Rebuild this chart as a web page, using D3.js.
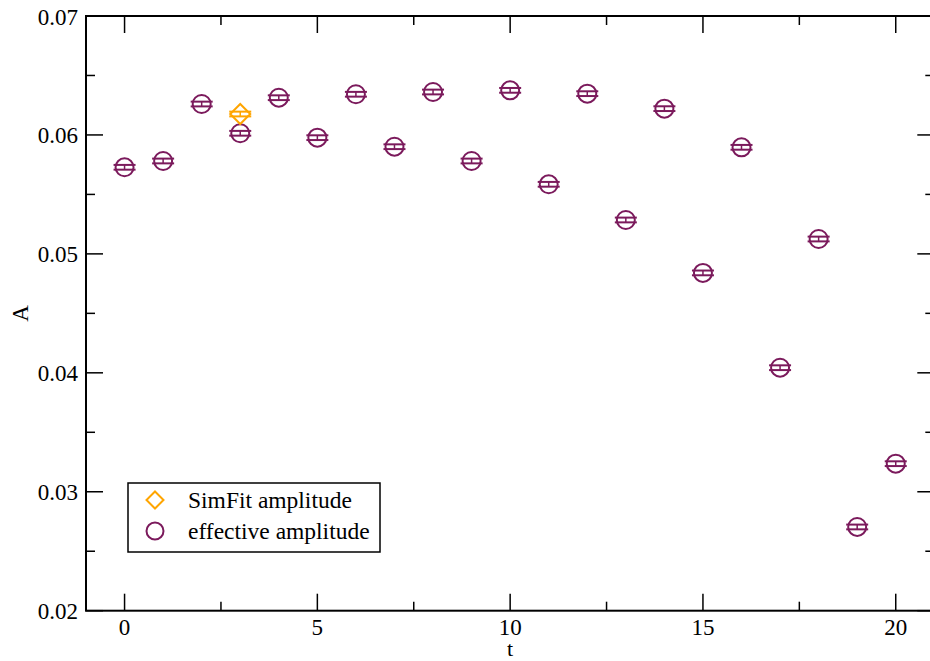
<!DOCTYPE html>
<html>
<head>
<meta charset="utf-8">
<script src="https://cdn.jsdelivr.net/npm/d3@7"></script>
<style>
  html, body { margin: 0; padding: 0; background: #fff; }
  svg { display: block; }
  text { font-family: "Liberation Serif", "DejaVu Serif", serif; fill: #000; }
</style>
</head>
<body>
<svg id="chart" width="930" height="661"></svg>
<script>
// Effective amplitude per time slice t
const tValues = [0, 1, 2, 3, 4, 5, 6, 7, 8, 9, 10, 11, 12, 13, 14, 15, 16, 17, 18, 19, 20];
const effAmp = [0.05728, 0.05781, 0.06260, 0.06014, 0.06313, 0.05977, 0.06342, 0.05901,
                0.06361, 0.05781, 0.06375, 0.05585, 0.06347, 0.05285, 0.06221, 0.04840,
                0.05896, 0.04043, 0.05125, 0.02704, 0.03236];
const effErr = [0.0002, 0.0002, 0.0002, 0.0002, 0.0002, 0.0002, 0.0002, 0.0002, 0.0002, 0.0002,
                0.0002, 0.0002, 0.0002, 0.0002, 0.0002, 0.0002, 0.0002, 0.0002, 0.0002, 0.0002, 0.0002];

// Simultaneous-fit amplitude
const simT = [3];
const simAmp = [0.06176];
const simErr = [0.0002];

const xMajorTicks = [0, 5, 10, 15, 20];
const yMajorTicks = [0.02, 0.03, 0.04, 0.05, 0.06, 0.07];
const legendLabels = ["SimFit amplitude", "effective amplitude"];

const purple = "#7b1a5c";
const orange = "#ffa500";

const svg = d3.select("#chart");
const plotLeft = 86, plotTop = 16, plotRight = 934.3, plotBottom = 610.7;

const x = d3.scaleLinear().domain([-1, 21]).range([plotLeft, plotRight]);
const y = d3.scaleLinear().domain([0.02, 0.07]).range([plotBottom, plotTop]);

const xMinor = d3.range(0, 21, 2.5).filter(v => !xMajorTicks.includes(v));
const yMinor = d3.range(0.025, 0.07, 0.01);

// Frame
svg.append("rect")
  .attr("x", plotLeft).attr("y", plotTop)
  .attr("width", plotRight - plotLeft).attr("height", plotBottom - plotTop)
  .attr("fill", "none").attr("stroke", "#000").attr("stroke-width", 2);

const ticks = svg.append("g").attr("stroke", "#000").attr("stroke-width", 1.5);
const majorLen = 17, minorLen = 9;

// x ticks (bottom and top, pointing inward)
xMajorTicks.forEach(v => {
  ticks.append("line").attr("x1", x(v)).attr("x2", x(v)).attr("y1", plotBottom).attr("y2", plotBottom - majorLen);
  ticks.append("line").attr("x1", x(v)).attr("x2", x(v)).attr("y1", plotTop).attr("y2", plotTop + majorLen);
});
xMinor.forEach(v => {
  ticks.append("line").attr("x1", x(v)).attr("x2", x(v)).attr("y1", plotBottom).attr("y2", plotBottom - minorLen);
  ticks.append("line").attr("x1", x(v)).attr("x2", x(v)).attr("y1", plotTop).attr("y2", plotTop + minorLen);
});
// y ticks (left and right)
yMajorTicks.forEach(v => {
  ticks.append("line").attr("y1", y(v)).attr("y2", y(v)).attr("x1", plotLeft).attr("x2", plotLeft + majorLen);
  ticks.append("line").attr("y1", y(v)).attr("y2", y(v)).attr("x1", plotRight).attr("x2", plotRight - majorLen);
});
yMinor.forEach(v => {
  ticks.append("line").attr("y1", y(v)).attr("y2", y(v)).attr("x1", plotLeft).attr("x2", plotLeft + minorLen);
  ticks.append("line").attr("y1", y(v)).attr("y2", y(v)).attr("x1", plotRight).attr("x2", plotRight - minorLen);
});

// Tick labels
svg.append("g").selectAll("text").data(xMajorTicks).join("text")
  .attr("x", d => x(d)).attr("y", 635)
  .attr("text-anchor", "middle").attr("font-size", 23)
  .text(d => d);
svg.append("g").selectAll("text").data(yMajorTicks).join("text")
  .attr("x", 78).attr("y", d => y(d) + 8.5)
  .attr("text-anchor", "end").attr("font-size", 23)
  .text(d => d3.format(".2f")(d));

// Axis titles
svg.append("text").attr("x", x(10)).attr("y", 656)
  .attr("text-anchor", "middle").attr("font-size", 22).text("t");
svg.append("text").attr("transform", `translate(28,${(plotTop + plotBottom) / 2}) rotate(-90)`)
  .attr("text-anchor", "middle").attr("font-size", 23).text("A");

// Error bars with caps
function errorBars(g, xs, ys, es, color) {
  const capW = 11;
  xs.forEach((t, i) => {
    const cx = x(t), y0 = y(ys[i] - es[i]), y1 = y(ys[i] + es[i]);
    g.append("line").attr("x1", cx).attr("x2", cx).attr("y1", y0).attr("y2", y1)
      .attr("stroke", color).attr("stroke-width", 1.5);
    [y0, y1].forEach(yy => g.append("line")
      .attr("x1", cx - capW).attr("x2", cx + capW).attr("y1", yy).attr("y2", yy)
      .attr("stroke", color).attr("stroke-width", 2));
  });
}

const dataG = svg.append("g");
// effective amplitude: circles
errorBars(dataG, tValues, effAmp, effErr, purple);
dataG.selectAll("circle.eff").data(tValues).join("circle")
  .attr("class", "eff")
  .attr("cx", d => x(d)).attr("cy", (d, i) => y(effAmp[i]))
  .attr("r", 9).attr("fill", "none").attr("stroke", purple).attr("stroke-width", 2);

// SimFit amplitude: diamonds
errorBars(dataG, simT, simAmp, simErr, orange);
const diamond = (cx, cy, s) => `M${cx},${cy - s}L${cx + s},${cy}L${cx},${cy + s}L${cx - s},${cy}Z`;
dataG.selectAll("path.sim").data(simT).join("path")
  .attr("class", "sim")
  .attr("d", (d, i) => diamond(x(d), y(simAmp[i]), 10))
  .attr("fill", "none").attr("stroke", orange).attr("stroke-width", 2);

// Legend
const lg = svg.append("g");
lg.append("rect").attr("x", 128).attr("y", 483).attr("width", 252).attr("height", 69)
  .attr("fill", "#fff").attr("stroke", "#000").attr("stroke-width", 1.5);
lg.append("path").attr("d", diamond(155, 500, 8.5))
  .attr("fill", "none").attr("stroke", orange).attr("stroke-width", 2);
lg.append("circle").attr("cx", 155).attr("cy", 531).attr("r", 8.5)
  .attr("fill", "none").attr("stroke", purple).attr("stroke-width", 2);
lg.selectAll("text").data(legendLabels).join("text")
  .attr("x", 188).attr("y", (d, i) => 508 + i * 30.5)
  .attr("font-size", 23.5).text(d => d);
</script>
</body>
</html>
